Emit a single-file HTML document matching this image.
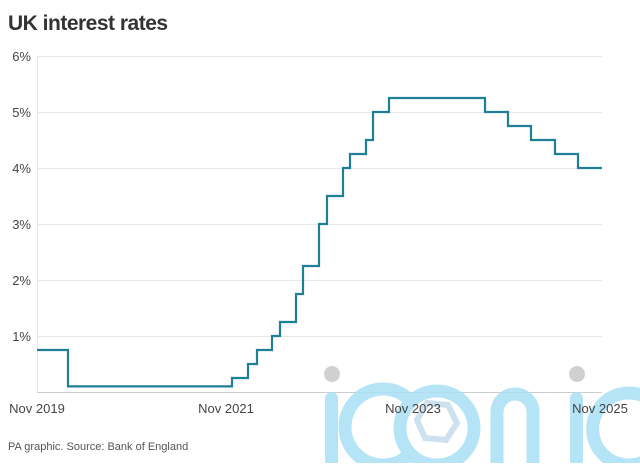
<!DOCTYPE html>
<html><head><style>
body{margin:0;background:#fff;width:640px;height:463px;overflow:hidden;font-family:"Liberation Sans",Arial,sans-serif}
</style></head><body>
<svg width="640" height="463" xmlns="http://www.w3.org/2000/svg" font-family="Liberation Sans, Arial, sans-serif">
<text x="8" y="30" font-size="21" font-weight="bold" fill="#333" letter-spacing="-0.5">UK interest rates</text>
<g stroke="#e8e8e8" stroke-width="1">
<line x1="37" x2="602" y1="56.5" y2="56.5"/><line x1="37" x2="602" y1="112.5" y2="112.5"/>
<line x1="37" x2="602" y1="168.5" y2="168.5"/><line x1="37" x2="602" y1="224.5" y2="224.5"/>
<line x1="37" x2="602" y1="280.5" y2="280.5"/><line x1="37" x2="602" y1="336.5" y2="336.5"/>
<line x1="37.5" x2="37.5" y1="56" y2="392"/>
</g>
<line x1="37" x2="602" y1="392.5" y2="392.5" stroke="#ccc"/>
<g font-size="13" fill="#444" text-anchor="end">
<text x="31" y="61">6%</text><text x="31" y="117">5%</text><text x="31" y="173">4%</text>
<text x="31" y="229">3%</text><text x="31" y="285">2%</text><text x="31" y="341">1%</text>
</g>
<g opacity="0.85">
<rect x="325" y="392" width="13" height="75" rx="6.5" fill="#a9e0f6"/>
<path d="M405 396 A38 38 0 1 0 405 458" fill="none" stroke="#a9e0f6" stroke-width="13" stroke-linecap="round"/>
<circle cx="437" cy="428" r="37" fill="none" stroke="#a9e0f6" stroke-width="13"/>
<polygon points="427,403 448,405 457,423 446,440 425,438 417,420" fill="none" stroke="#c6dcec" stroke-width="6"/>
<path d="M497 470 V412 A18 18 0 0 1 533 412 V470" fill="none" stroke="#a9e0f6" stroke-width="13"/>
<rect x="570" y="392" width="13" height="75" rx="6.5" fill="#a9e0f6"/>
<path d="M650 400 A36 36 0 1 0 650 458" fill="none" stroke="#a9e0f6" stroke-width="13" stroke-linecap="round"/>
<circle cx="332" cy="374" r="8" fill="#c8c8c8"/>
<circle cx="577" cy="374" r="8" fill="#c8c8c8"/>
</g>
<path d="M37 350 H68 V386.4 H232 V378 H248 V364 H257 V350 H272 V336 H280 V322 H296 V294 H303 V266 H319 V224 H327 V196 H343 V168 H350 V154 H366 V140 H373 V112 H389 V98 H485 V112 H508 V126 H531 V140 H555 V154 H578 V168 H602" fill="none" stroke="#1f7f96" stroke-width="2.2"/>
<g font-size="13" fill="#444" text-anchor="middle">
<text x="37" y="413">Nov 2019</text><text x="226" y="413">Nov 2021</text>
<text x="413" y="413">Nov 2023</text><text x="600" y="413">Nov 2025</text>
</g>
<text x="8" y="450" font-size="11" fill="#555">PA graphic. Source: Bank of England</text>
</svg>
</body></html>
